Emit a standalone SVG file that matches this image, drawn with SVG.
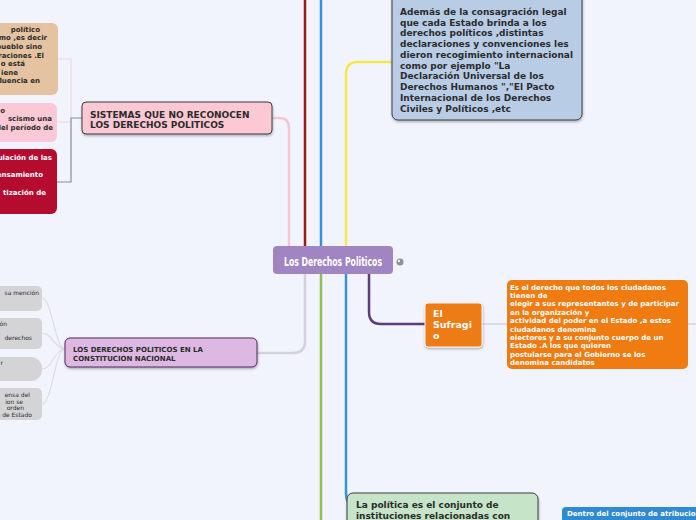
<svg xmlns="http://www.w3.org/2000/svg" width="696" height="520" viewBox="0 0 696 520">
<defs>
<filter id="sh" x="-10%" y="-10%" width="120%" height="130%"><feDropShadow dx="0.5" dy="1.5" stdDeviation="0.8" flood-color="#000" flood-opacity="0.3"/></filter>
<style>
.t{font-family:"DejaVu Sans",Verdana,sans-serif;font-weight:bold}
.dk{fill:#2b2b2b}
.wh{fill:#ffffff}
.f9{font-size:9px}
.f7{font-size:7px}
.f6{font-size:6px;font-weight:normal}
.br{fill:none;stroke-width:2.5;stroke-linecap:round}
.ch{fill:none;stroke-width:1.2}
</style>
</defs>
<rect width="696" height="520" fill="#f1f4fd"/>
<g id="connectors">
<path class="br" d="M305,0 V246" stroke="#9b1a1a"/>
<path class="br" d="M321,0 V246" stroke="#3a92d6"/>
<path class="br" d="M272,118 H279 Q289,118 289,128 V246" stroke="#f8c6d2"/>
<path class="br" d="M346,246 V74 Q346,62 358,62 H392" stroke="#f7e64c"/>
<path class="br" d="M305,274 V341 Q305,353 293,353 H257" stroke="#d2d2d8"/>
<path class="br" d="M321,274 V520" stroke="#8dc050"/>
<path class="br" d="M346,274 V492 Q346,504 352,504" stroke="#3a92d6"/>
<path class="br" d="M369,274 V312 Q369,324 381,324 H425" stroke="#5e3a7e"/>
<path class="ch" d="M482,324 H507 M688,324 H696" stroke="#c9bdd9" stroke-width="1.5"/>
<path class="ch" d="M58,59 H71 V118 M57,122 H71" stroke="#f6d3dc"/>
<path class="ch" d="M82,118 H71 V182 H57" stroke="#8c8c96"/>
<path class="ch" d="M65,349 C55,349 52,298 42,298 M65,349 C55,349 52,333 42,333 M65,349 C55,349 52,369 42,369 M65,349 C55,349 52,404 42,404" stroke="#dcdce4"/>
</g>
<g id="central">
<rect x="273" y="246" width="120" height="28" rx="4" fill="#a184c2"/>
<text x="333" y="266" text-anchor="middle" font-family="'DejaVu Sans Condensed','DejaVu Sans',sans-serif" font-weight="bold" font-size="12.5" fill="#fff" textLength="98" lengthAdjust="spacingAndGlyphs">Los Derechos Politicos</text>
<circle cx="400" cy="262" r="3.5" fill="#8e8e98"/>
<circle cx="399" cy="261" r="1.2" fill="#f1f4fd"/>
</g>
<g id="n-declaracion">
<rect x="392" y="-10" width="190" height="130" rx="6" fill="#b8cce6" stroke="#3d3d3d" filter="url(#sh)"/>
<text class="t f9 dk"><tspan x="400" y="15">Además de la consagración legal</tspan><tspan x="400" y="25.7">que cada Estado brinda a los</tspan><tspan x="400" y="36.4">derechos políticos ,distintas</tspan><tspan x="400" y="47.2">declaraciones y convenciones les</tspan><tspan x="400" y="57.9">dieron recogimiento internacional</tspan><tspan x="400" y="68.6">como por ejemplo "La</tspan><tspan x="400" y="79.4">Declaración Universal de los</tspan><tspan x="400" y="90.1">Derechos Humanos ","El Pacto</tspan><tspan x="400" y="100.8">Internacional de los Derechos</tspan><tspan x="400" y="111.6">Civiles y Políticos ,etc</tspan></text>
</g>
<g id="n-sistemas">
<rect x="82" y="102" width="190" height="32" rx="4" fill="#fbc8d4" stroke="#3d3d3d" filter="url(#sh)"/>
<text class="t f9 dk"><tspan x="90" y="117.5">SISTEMAS QUE NO RECONOCEN</tspan><tspan x="90" y="128">LOS DERECHOS POLITICOS</tspan></text>
</g>
<g id="n-tan">
<rect x="-10" y="23" width="68" height="72" rx="6" fill="#e5c3a1"/>
<text class="t f7 dk" text-anchor="end"><tspan x="40" y="31.5">político</tspan><tspan x="47" y="40">mo ,es decir</tspan><tspan x="42" y="49">pueblo sino</tspan><tspan x="44" y="58">raciones .El</tspan><tspan x="25" y="66">o está</tspan><tspan x="18" y="74.5">iene</tspan><tspan x="40" y="83">fluencia en</tspan></text>
</g>
<g id="n-fascismo">
<rect x="-10" y="103" width="67" height="39" rx="6" fill="#fbc9d5"/>
<text class="t f7 dk" text-anchor="end"><tspan x="5" y="112.5">o</tspan><tspan x="52" y="121">scismo una</tspan><tspan x="53" y="130">del período de</tspan></text>
</g>
<g id="n-regulacion">
<rect x="-10" y="149" width="67" height="65" rx="6" fill="#b50b2f"/>
<text class="t f7 wh" text-anchor="end"><tspan x="52" y="159.5">ulación de las</tspan><tspan x="43" y="176.5">ensamiento</tspan><tspan x="46" y="194.5">tización de</tspan></text>
</g>
<g id="n-constitucion">
<rect x="65" y="338" width="192" height="29" rx="5" fill="#dcb8e2" stroke="#4f2a5a" filter="url(#sh)"/>
<text class="t f7 dk"><tspan x="73" y="351.5">LOS DERECHOS POLITICOS EN LA</tspan><tspan x="73" y="360.5">CONSTITUCION NACIONAL</tspan></text>
</g>
<g id="n-gray1">
<rect x="-10" y="286" width="52" height="25" rx="5" fill="#d4d4d6"/>
<text class="t f6 dk" text-anchor="end" x="39" y="295">sa mención</text>
</g>
<g id="n-gray2">
<rect x="-10" y="318" width="52" height="31" rx="5" fill="#d4d4d6"/>
<text class="t f6 dk" text-anchor="end"><tspan x="7" y="326">ión</tspan><tspan x="32" y="340">derechos</tspan></text>
</g>
<g id="n-gray3">
<rect x="-10" y="357" width="52" height="24" rx="11" fill="#d4d4d6"/>
<text class="t f6 dk" text-anchor="end" x="3" y="365">r</text>
</g>
<g id="n-gray4">
<rect x="-10" y="388" width="52" height="32" rx="5" fill="#d4d4d6"/>
<text class="t f6 dk" text-anchor="end"><tspan x="30" y="397">ensa del</tspan><tspan x="23" y="403.5">ion se</tspan><tspan x="24" y="410">orden</tspan><tspan x="32" y="416.5">e de Estado</tspan></text>
</g>
<g id="n-sufragio">
<rect x="425" y="303" width="57" height="44" rx="3" fill="#ee7b12" stroke="#f7f7f7" filter="url(#sh)"/>
<text class="t wh" font-size="9.5"><tspan x="433" y="316.5">El</tspan><tspan x="433" y="327.5">Sufragi</tspan><tspan x="433" y="338.5">o</tspan></text>
</g>
<g id="n-sufragio-def">
<rect x="507" y="280" width="181" height="89" rx="5" fill="#ef7b11"/>
<text class="t f7 wh"><tspan x="510" y="289.5">Es el derecho que todos los ciudadanos</tspan><tspan x="510" y="297.9">tienen de</tspan><tspan x="510" y="306.3">elegir a sus representantes y de participar</tspan><tspan x="510" y="314.7">en la organización y</tspan><tspan x="510" y="323.1">actividad del poder en el Estado ,a estos</tspan><tspan x="510" y="331.5">ciudadanos denomina</tspan><tspan x="510" y="339.9">electores y a su conjunto cuerpo de un</tspan><tspan x="510" y="348.3">Estado .A los que quieren</tspan><tspan x="510" y="356.7">postularse para el Gobierno se los</tspan><tspan x="510" y="365.1">denomina candidatos</tspan></text>
</g>
<g id="n-politica">
<rect x="347" y="493" width="191" height="40" rx="6" fill="#c6e4c8" stroke="#3d3d3d" filter="url(#sh)"/>
<text class="t f9 dk"><tspan x="356" y="508">La política es el conjunto de</tspan><tspan x="356" y="518.5">instituciones relacionadas con</tspan></text>
</g>
<g id="n-atribuciones">
<rect x="562" y="507" width="150" height="30" rx="4" fill="#2f8ad4"/>
<text class="t f7 wh" x="567" y="515.5">Dentro del conjunto de atribucion</text>
</g>
</svg>
